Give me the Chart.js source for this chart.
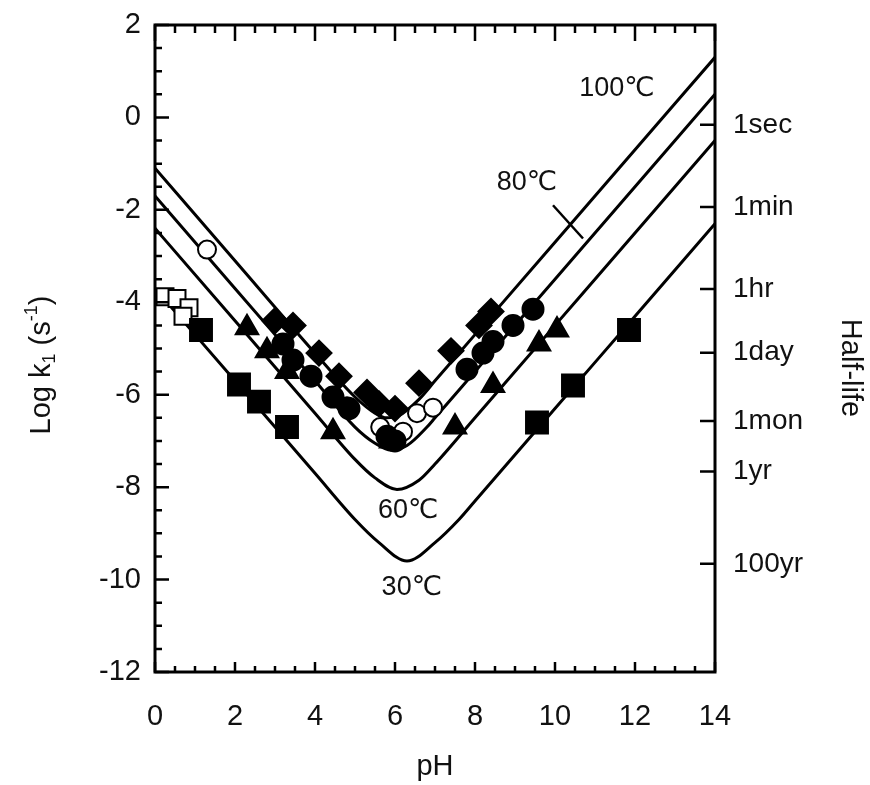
<!DOCTYPE html>
<html>
<head>
<meta charset="utf-8">
<script src="https://cdn.jsdelivr.net/npm/chart.js@4.4.1/dist/chart.umd.min.js"></script>
<style>
  html, body { margin: 0; background: #fff; }
</style>
</head>
<body>
<canvas id="phChart" width="870" height="785"></canvas>
<script>
// fitted curves (pH, log k1)
const curve100pH = [0, 2, 4, 5, 5.5, 5.8, 6.1, 6.6, 7, 8, 10, 12, 14];
const curve100 = [-1.1, -3.1, -5.1, -6.05, -6.4, -6.5, -6.45, -6.1, -5.7, -4.7, -2.7, -0.7, 1.3];
const curve80pH = [0, 2, 4, 5, 5.5, 5.9, 6.3, 6.8, 7, 8, 10, 12, 14];
const curve80 = [-1.7, -3.7, -5.7, -6.7, -7.05, -7.2, -7.1, -6.7, -6.5, -5.5, -3.5, -1.5, 0.5];
const curve60pH = [0, 2, 4, 5, 5.5, 6.05, 6.6, 7, 8, 10, 12, 14];
const curve60 = [-2.4, -4.4, -6.4, -7.4, -7.8, -8.05, -7.85, -7.5, -6.5, -4.5, -2.5, -0.5];
const curve30pH = [0, 2, 4, 5, 5.6, 6.3, 7, 7.6, 8, 10, 12, 14];
const curve30 = [-3.7, -5.7, -7.7, -8.7, -9.2, -9.6, -9.2, -8.7, -8.3, -6.3, -4.3, -2.3];

// measured points
const diamondPH = [3.0, 3.45, 4.1, 4.6, 5.3, 5.6, 6.0, 6.6, 7.4, 8.1, 8.4];
const diamondK = [-4.4, -4.5, -5.1, -5.6, -5.95, -6.2, -6.3, -5.75, -5.05, -4.5, -4.2];
const circlePH = [3.2, 3.45, 3.9, 4.45, 4.85, 5.8, 6.0, 7.8, 8.2, 8.45, 8.95, 9.45];
const circleK = [-4.9, -5.25, -5.6, -6.05, -6.3, -6.9, -7.0, -5.45, -5.1, -4.85, -4.5, -4.15];
const openCirclePH = [1.3, 4.8, 5.63, 6.2, 6.55, 6.95];
const openCircleK = [-2.86, -6.25, -6.7, -6.8, -6.4, -6.28];
const trianglePH = [2.3, 2.8, 3.3, 4.45, 5.9, 7.5, 8.45, 9.6, 10.05];
const triangleK = [-4.55, -5.05, -5.5, -6.8, -7.0, -6.7, -5.8, -4.9, -4.6];
const squarePH = [1.15, 2.1, 2.6, 3.3, 9.55, 10.45, 11.85];
const squareK = [-4.6, -5.78, -6.15, -6.7, -6.6, -5.8, -4.6];
const openSquarePH = [0.25, 0.55, 0.85, 0.7];
const openSquareK = [-3.88, -3.92, -4.12, -4.3];

// right axis: half-life marks
const halfLifeLabels = ['1sec', '1min', '1hr', '1day', '1mon', '1yr', '100yr'];
const halfLifeLogK = [-0.16, -1.94, -3.71, -5.09, -6.57, -7.66, -9.66];

const tempLabels = ['100℃', '80℃', '60℃', '30℃'];
const tempLabelPH = [11.55, 9.3, 6.33, 6.42];
const tempLabelK = [0.62, -1.4, -8.5, -10.17];
const pointerPH = [9.95, 10.7];
const pointerK = [-1.9, -2.62];

const FONT = '"Liberation Sans", Arial, "DejaVu Sans", sans-serif';

function pts(xs, ys) {
    return xs.map((x, i) => ({ x: x, y: ys[i] }));
}

function curve(xs, ys) {
    return {
        data: pts(xs, ys),
        showLine: true,
        borderColor: '#000',
        borderWidth: 3,
        pointRadius: 0,
        cubicInterpolationMode: 'monotone',
        order: 2,
    };
}

function marks(xs, ys, style, r, fill) {
    return {
        data: pts(xs, ys),
        pointStyle: style,
        pointRadius: r,
        pointBackgroundColor: fill,
        pointBorderColor: '#000',
        pointBorderWidth: 2,
        order: 1,
    };
}

const frameTicks = {
    id: 'frameTicks',
    afterDraw(chart) {
        const ctx = chart.ctx;
        const a = chart.chartArea;
        const xs = chart.scales.x, ys = chart.scales.y;
        ctx.save();
        ctx.strokeStyle = '#000';
        ctx.lineWidth = 3;
        ctx.strokeRect(a.left, a.top, a.right - a.left, a.bottom - a.top);
        ctx.lineWidth = 2.5;
        ctx.beginPath();
        for (let v = 0; v <= 14.001; v += 0.5) {
            const px = xs.getPixelForValue(v);
            const major = Math.abs(v % 2) < 0.01;
            ctx.moveTo(px, a.top); ctx.lineTo(px, a.top + (major ? 16 : 8));
            ctx.moveTo(px, a.bottom); ctx.lineTo(px, a.bottom - (major ? 10 : 6));
        }
        for (let v = -12; v <= 2.001; v += 0.5) {
            const py = ys.getPixelForValue(v);
            const major = Math.abs(v % 2) < 0.01;
            ctx.moveTo(a.left, py); ctx.lineTo(a.left + (major ? 14 : 7), py);
        }
        halfLifeLogK.forEach(v => {
            const py = ys.getPixelForValue(v);
            ctx.moveTo(a.right, py); ctx.lineTo(a.right - 15, py);
        });
        ctx.stroke();

        // temperature labels
        ctx.fillStyle = '#111';
        ctx.font = '27px ' + FONT;
        ctx.textAlign = 'center';
        ctx.textBaseline = 'middle';
        tempLabels.forEach((t, i) => {
            ctx.fillText(t, xs.getPixelForValue(tempLabelPH[i]), ys.getPixelForValue(tempLabelK[i]));
        });

        // axis titles with sub/superscripts
        ctx.font = '29px ' + FONT;
        ctx.fillText('pH', (a.left + a.right) / 2, 767);

        ctx.save();
        ctx.translate(850, 368);
        ctx.rotate(Math.PI / 2);
        ctx.fillText('Half-life', 0, 0);
        ctx.restore();

        const parts = [
            ['Log k', 29, 0], ['1', 18, 8], [' (s', 29, 0], ['-1', 18, -10], [')', 29, 0]
        ];
        let w = 0;
        parts.forEach(p => { ctx.font = p[1] + 'px ' + FONT; w += ctx.measureText(p[0]).width; });
        ctx.save();
        ctx.translate(42, 365);
        ctx.rotate(-Math.PI / 2);
        ctx.textAlign = 'left';
        let x = -w / 2;
        parts.forEach(p => {
            ctx.font = p[1] + 'px ' + FONT;
            ctx.fillText(p[0], x, p[2]);
            x += ctx.measureText(p[0]).width;
        });
        ctx.restore();
        ctx.restore();
    }
};

const tickFont = { family: FONT, size: 29 };

new Chart(document.getElementById('phChart'), {
    type: 'scatter',
    data: {
        datasets: [
            curve(curve100pH, curve100),
            curve(curve80pH, curve80),
            curve(curve60pH, curve60),
            curve(curve30pH, curve30),
            {
                data: pts(pointerPH, pointerK),
                showLine: true,
                borderColor: '#000',
                borderWidth: 2.5,
                pointRadius: 0,
                order: 2,
            },
            marks(squarePH, squareK, 'rect', 15.5, '#000'),
            marks(openSquarePH, openSquareK, 'rect', 12, '#fff'),
            marks(trianglePH, triangleK, 'triangle', 13, '#000'),
            marks(circlePH, circleK, 'circle', 10.5, '#000'),
            marks(diamondPH, diamondK, 'rectRot', 12.5, '#000'),
            marks(openCirclePH, openCircleK, 'circle', 9, '#fff'),
        ]
    },
    options: {
        responsive: false,
        animation: false,
        layout: { padding: { top: 25 } },
        plugins: {
            legend: { display: false },
            tooltip: { enabled: false },
        },
        scales: {
            x: {
                type: 'linear',
                min: 0,
                max: 14,
                ticks: { stepSize: 2, padding: 28, color: '#111', font: tickFont },
                grid: { display: false, drawTicks: false },
                border: { display: false },
                afterFit(s) { s.height = 113; s.paddingLeft = 0; s.paddingRight = 0; },
            },
            y: {
                min: -12,
                max: 2,
                ticks: { stepSize: 2, padding: 14, color: '#111', font: tickFont },
                grid: { display: false, drawTicks: false },
                border: { display: false },
                afterFit(s) { s.width = 155; s.paddingTop = 0; s.paddingBottom = 0; },
            },
            y2: {
                position: 'right',
                min: -12,
                max: 2,
                afterBuildTicks(s) { s.ticks = halfLifeLogK.map(v => ({ value: v })); },
                ticks: {
                    padding: 18,
                    color: '#111',
                    font: { family: FONT, size: 28 },
                    callback: (v, i) => halfLifeLabels[i],
                },
                grid: { display: false, drawTicks: false },
                border: { display: false },
                afterFit(s) { s.width = 155; s.paddingTop = 0; s.paddingBottom = 0; },
            }
        }
    },
    plugins: [frameTicks]
});
</script>
</body>
</html>
